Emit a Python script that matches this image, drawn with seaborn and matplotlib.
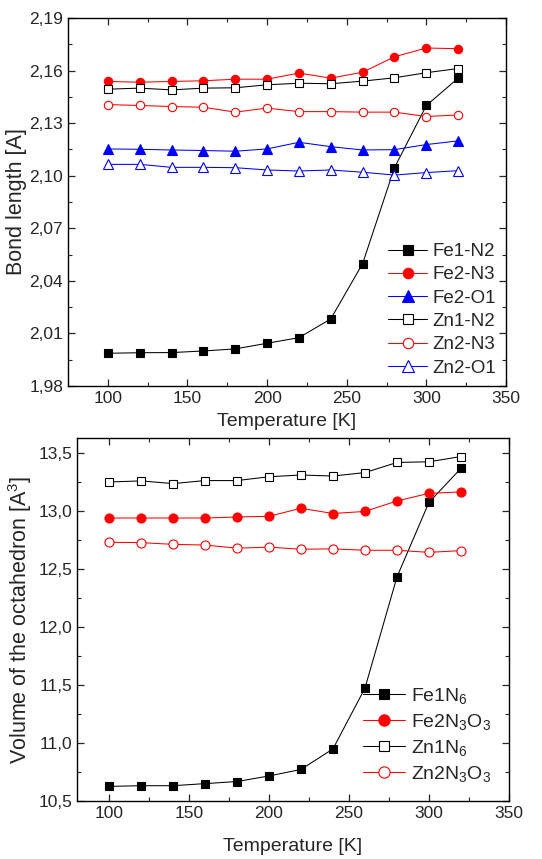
import matplotlib
matplotlib.use("Agg")
import matplotlib.pyplot as plt
import matplotlib.ticker as mticker
import numpy as np
import pandas as pd
import seaborn as sns

temps = [100, 120, 140, 160, 180, 200, 220, 240, 260, 280, 300, 320]

# bond lengths [A]
fe1_n2 = [1.9987, 1.9990, 1.9991, 2.0000, 2.0012, 2.0044, 2.0076, 2.0183, 2.0499, 2.1046, 2.1401, 2.1557]
fe2_n3 = [2.1538, 2.1534, 2.1538, 2.1542, 2.1551, 2.1551, 2.1586, 2.1557, 2.1591, 2.1679, 2.1729, 2.1725]
fe2_o1 = [2.1153, 2.1151, 2.1147, 2.1144, 2.1140, 2.1153, 2.1191, 2.1166, 2.1147, 2.1149, 2.1178, 2.1199]
zn1_n2 = [2.1494, 2.1500, 2.1490, 2.1500, 2.1502, 2.1519, 2.1528, 2.1525, 2.1540, 2.1559, 2.1588, 2.1612]
zn2_n3 = [2.1406, 2.1401, 2.1395, 2.1391, 2.1363, 2.1386, 2.1366, 2.1366, 2.1363, 2.1363, 2.1338, 2.1347]
zn2_o1 = [2.1065, 2.1065, 2.1048, 2.1048, 2.1046, 2.1033, 2.1027, 2.1033, 2.1020, 2.1004, 2.1018, 2.1029]

# octahedron volumes [A^3]
fe1n6 = [10.626, 10.632, 10.632, 10.650, 10.668, 10.716, 10.772, 10.949, 11.473, 12.431, 13.075, 13.368]
fe2n3o3 = [12.940, 12.940, 12.940, 12.940, 12.949, 12.955, 13.024, 12.979, 12.997, 13.087, 13.153, 13.165]
zn1n6 = [13.251, 13.260, 13.237, 13.263, 13.263, 13.296, 13.311, 13.302, 13.332, 13.419, 13.425, 13.470]
zn2n3o3 = [12.731, 12.728, 12.713, 12.707, 12.680, 12.689, 12.671, 12.674, 12.662, 12.662, 12.644, 12.659]

sns.set_style("ticks")
plt.rcParams['font.family'] = ['Liberation Sans', 'DejaVu Sans']
plt.rcParams['mathtext.fontset'] = 'custom'
plt.rcParams['mathtext.rm'] = 'Liberation Sans'
plt.rcParams['mathtext.it'] = 'Liberation Sans'

fig = plt.figure(figsize=(5.42, 8.59), dpi=100)
ax1 = fig.add_axes([0.1255, 0.5506, 0.808, 0.4284])
ax2 = fig.add_axes([0.142, 0.0675, 0.797, 0.4226])


def draw(ax, y, label, color, marker, filled, ms):
    sns.lineplot(x=temps, y=y, ax=ax, color=color, linewidth=0.75, marker=marker,
                 markersize=ms, markerfacecolor=color if filled else 'white',
                 markeredgecolor=color, markeredgewidth=0.8, label=label)


def style(ax):
    ax.tick_params(which='both', direction='in', top=True, right=True, labelsize=12.5)
    ax.tick_params(which='major', length=5, width=0.9)
    ax.tick_params(which='minor', length=3, width=0.8)
    for s in ax.spines.values():
        s.set_linewidth(1.0)
        s.set_color('black')


draw(ax1, fe1_n2, 'Fe1-N2', 'black', 's', True, 5.5)
draw(ax1, fe2_n3, 'Fe2-N3', 'red', 'o', True, 6)
draw(ax1, fe2_o1, 'Fe2-O1', 'blue', '^', True, 6.5)
draw(ax1, zn1_n2, 'Zn1-N2', 'black', 's', False, 5.5)
draw(ax1, zn2_n3, 'Zn2-N3', 'red', 'o', False, 6)
draw(ax1, zn2_o1, 'Zn2-O1', 'blue', '^', False, 6.5)
ax1.set_xlim(75, 350)
ax1.set_ylim(1.98, 2.19)
ax1.set_yticks(np.arange(1.98, 2.1901, 0.03))
ax1.yaxis.set_minor_locator(mticker.AutoMinorLocator(2))
ax1.xaxis.set_major_locator(mticker.MultipleLocator(50))
ax1.xaxis.set_minor_locator(mticker.MultipleLocator(25))
ax1.yaxis.set_major_formatter(mticker.FuncFormatter(lambda v, p: f"{v:.2f}".replace('.', ',')))
ax1.set_xlabel('Temperature [K]', fontsize=14, labelpad=5)
ax1.set_ylabel('Bond length [A]', fontsize=15.5, labelpad=2)
style(ax1)
ax1.legend(loc='lower right', frameon=False, fontsize=13.5, handlelength=2.1,
           handletextpad=0.3, labelspacing=0.33, borderaxespad=0.3, markerscale=1.25,
           borderpad=0.2)

draw(ax2, fe1n6, 'Fe1N$_{6}$', 'black', 's', True, 5.5)
draw(ax2, fe2n3o3, 'Fe2N$_{3}$O$_{3}$', 'red', 'o', True, 6.5)
draw(ax2, zn1n6, 'Zn1N$_{6}$', 'black', 's', False, 5.5)
draw(ax2, zn2n3o3, 'Zn2N$_{3}$O$_{3}$', 'red', 'o', False, 6.5)
ax2.set_xlim(80, 350)
ax2.set_ylim(10.5, 13.63)
ax2.set_yticks(np.arange(10.5, 13.51, 0.5))
ax2.yaxis.set_minor_locator(mticker.AutoMinorLocator(2))
ax2.xaxis.set_major_locator(mticker.MultipleLocator(50))
ax2.xaxis.set_minor_locator(mticker.MultipleLocator(25))
ax2.yaxis.set_major_formatter(mticker.FuncFormatter(lambda v, p: f"{v:.1f}".replace('.', ',')))
ax2.set_xlabel('Temperature [K]', fontsize=14, labelpad=12)
ax2.set_ylabel('Volume of the octahedron [A$^{3}$]', fontsize=15.5, labelpad=3)
style(ax2)
ax2.legend(loc='lower right', frameon=False, fontsize=14, handlelength=2.2,
           handletextpad=0.3, labelspacing=0.3, borderaxespad=0.7, markerscale=1.25,
           borderpad=0.2)

fig.savefig('out.png', dpi=100)
